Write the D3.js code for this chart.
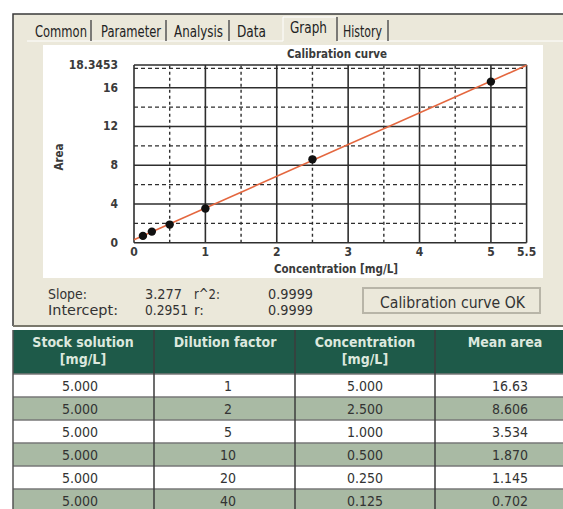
<!DOCTYPE html>
<html>
<head>
<meta charset="utf-8">
<title>Calibration curve</title>
<script src="https://d3js.org/d3.v7.min.js"></script>
<style>
  body { margin: 0; background: #fff; }
  svg text { font-family: "Liberation Sans Narrow", "DejaVu Sans Condensed", "Liberation Sans", sans-serif; }
</style>
</head>
<body>
<div id="chart"></div>
<script>
// data
const tabs = ["Common", "Parameter", "Analysis", "Data", "Graph", "History"];
const selectedTab = "Graph";
const stockSolution = ["5.000", "5.000", "5.000", "5.000", "5.000", "5.000"];
const dilutionFactor = ["1", "2", "5", "10", "20", "40"];
const concentration = [5.000, 2.500, 1.000, 0.500, 0.250, 0.125];
const meanArea = [16.63, 8.606, 3.534, 1.870, 1.145, 0.702];
const concentrationText = ["5.000", "2.500", "1.000", "0.500", "0.250", "0.125"];
const meanAreaText = ["16.63", "8.606", "3.534", "1.870", "1.145", "0.702"];
const headers = [["Stock solution", "[mg/L]"], ["Dilution factor"], ["Concentration", "[mg/L]"], ["Mean area"]];
const xTicks = [0, 1, 2, 3, 4, 5, 5.5];
const xDashed = [0.5, 1.5, 2.5, 3.5, 4.5];
const yTicks = [0, 4, 8, 12, 16, 18.3453];
const yDashed = [2, 6, 10, 14, 18];
const slope = 3.277, intercept = 0.2951, r2 = "0.9999", r = "0.9999";
const stats = [["Slope:", "3.277", "r^2:", r2], ["Intercept:", "0.2951", "r:", r]];

const W = 563, H = 509;
const svg = d3.select("#chart").append("svg").attr("width", W).attr("height", H);

// window panel
svg.append("rect").attr("x", 13).attr("y", 14).attr("width", W - 13).attr("height", 312)
  .attr("fill", "#ebe8da");
svg.append("path").attr("d", `M13,326V14H${W}`).attr("fill", "none").attr("stroke", "#3a3a3a").attr("stroke-width", 1.5);
svg.append("line").attr("x1", 13).attr("x2", W).attr("y1", 326).attr("y2", 326)
  .attr("stroke", "#7a786c").attr("stroke-width", 2);

// tabs
const tabX = [35, 101, 174, 237, 290, 343];
const tabW = [52, 60, 49, 29, 37, 39];
const tabSep = [91, 166, 229, null, 337, 388];
svg.append("line").attr("x1", 27).attr("x2", W).attr("y1", 41).attr("y2", 41).attr("stroke", "#fff");
svg.append("rect").attr("x", 283).attr("y", 16).attr("width", 54).attr("height", 26).attr("fill", "#ebe8da");
svg.append("path").attr("d", "M283,41V17H336").attr("fill", "none").attr("stroke", "#fff");
tabs.forEach((t, i) => {
  const sel = t === selectedTab;
  svg.append("text").attr("x", tabX[i]).attr("y", sel ? 33 : 37)
    .attr("textLength", tabW[i]).attr("lengthAdjust", "spacingAndGlyphs")
    .attr("font-size", 15).attr("fill", "#222").text(t);
  if (tabSep[i]) {
    svg.append("line").attr("x1", tabSep[i]).attr("x2", tabSep[i]).attr("y1", sel ? 17 : 20).attr("y2", 41)
      .attr("stroke", "#555").attr("stroke-width", 1.5);
  }
});

// chart area
svg.append("rect").attr("x", 43).attr("y", 45).attr("width", 500).attr("height", 233).attr("fill", "#fff");

const x = d3.scaleLinear().domain([0, 5.5]).range([134, 526.6]);
const y = d3.scaleLinear().domain([0, 18.3453]).range([242.7, 65]);
const g = svg.append("g");
const ink = "#2e2e2e";

g.selectAll(".xd").data(xDashed).join("line")
  .attr("x1", d => x(d)).attr("x2", d => x(d)).attr("y1", y(0)).attr("y2", y(18.3453))
  .attr("stroke", ink).attr("stroke-width", 1.4).attr("stroke-dasharray", "3,3");
g.selectAll(".yd").data(yDashed).join("line")
  .attr("x1", x(0)).attr("x2", x(5.5)).attr("y1", d => y(d)).attr("y2", d => y(d))
  .attr("stroke", ink).attr("stroke-width", 1.4).attr("stroke-dasharray", "4,3");
g.selectAll(".xs").data(xTicks).join("line")
  .attr("x1", d => x(d)).attr("x2", d => x(d)).attr("y1", y(0)).attr("y2", y(18.3453))
  .attr("stroke", ink).attr("stroke-width", 1.6);
g.selectAll(".ys").data(yTicks).join("line")
  .attr("x1", x(0)).attr("x2", x(5.5)).attr("y1", d => y(d)).attr("y2", d => y(d))
  .attr("stroke", ink).attr("stroke-width", 1.6);

// tick labels
g.selectAll(".yl").data(yTicks).join("text")
  .attr("x", 118).attr("y", d => y(d) + 4).attr("text-anchor", "end")
  .attr("font-size", 12).attr("font-weight", "bold").attr("fill", "#3a3a3a").text(d => d);
g.selectAll(".xl").data(xTicks).join("text")
  .attr("x", d => x(d)).attr("y", 256).attr("text-anchor", "middle")
  .attr("font-size", 12).attr("font-weight", "bold").attr("fill", "#3a3a3a").text(d => d);
svg.append("text").attr("x", 336).attr("y", 273).attr("text-anchor", "middle")
  .attr("font-size", 11.5).attr("font-weight", "bold").attr("fill", "#3a3a3a").text("Concentration [mg/L]");
svg.append("text").attr("transform", "translate(63,157) rotate(-90)").attr("text-anchor", "middle")
  .attr("font-size", 11.5).attr("font-weight", "bold").attr("fill", "#3a3a3a").text("Area");
svg.append("text").attr("x", 337).attr("y", 58).attr("text-anchor", "middle")
  .attr("font-size", 11.5).attr("font-weight", "bold").attr("fill", "#3a3a3a").text("Calibration curve");

// fit line and points
const fit = [0, 5.5].map(c => [c, slope * c + intercept]);
g.append("path").datum(fit)
  .attr("d", d3.line().x(d => x(d[0])).y(d => y(Math.min(d[1], 18.3453))))
  .attr("stroke", "#e4673f").attr("stroke-width", 1.6).attr("fill", "none");
g.selectAll(".pt").data(concentration).join("circle")
  .attr("cx", d => x(d)).attr("cy", (d, i) => y(meanArea[i])).attr("r", 4.2).attr("fill", "#111");

// stats
const statX = [48, 145, 194, 268];
const statW = [[39, 37, 26, 45], [70, 43, 10, 45]];
stats.forEach((row, ri) => {
  row.forEach((s, ci) => {
    svg.append("text").attr("x", statX[ci]).attr("y", 299 + ri * 16)
      .attr("textLength", statW[ri][ci]).attr("lengthAdjust", "spacingAndGlyphs")
      .attr("font-size", 14).attr("fill", "#333").text(s);
  });
});
svg.append("rect").attr("x", 363).attr("y", 288).attr("width", 177).attr("height", 25)
  .attr("fill", "#ebe8da").attr("stroke", "#b8b5a8").attr("stroke-width", 2);
svg.append("text").attr("x", 380).attr("y", 308)
  .attr("textLength", 145).attr("lengthAdjust", "spacingAndGlyphs")
  .attr("font-size", 16).attr("fill", "#333").text("Calibration curve OK");

// table
const colEdges = [13, 154, 295, 435, W];
const headTextX = [83, 225, 365, 505];
const cellTextX = [80, 228, 365, 510];
const tableTop = 330, headH = 44, rowH = 23;
svg.append("rect").attr("x", 13).attr("y", tableTop).attr("width", W - 13).attr("height", headH).attr("fill", "#1e5a49");
headers.forEach((h, i) => {
  h.forEach((line, li) => {
    svg.append("text").attr("x", headTextX[i]).attr("y", tableTop + 17 + li * 17).attr("text-anchor", "middle")
      .attr("font-size", 14).attr("font-weight", "bold").attr("fill", "#dce8de").text(line);
  });
});
const rows = d3.range(concentration.length).map(i =>
  [stockSolution[i], dilutionFactor[i], concentrationText[i], meanAreaText[i]]);
rows.forEach((row, i) => {
  const ry = tableTop + headH + i * rowH;
  svg.append("rect").attr("x", 13).attr("y", ry).attr("width", W - 13).attr("height", rowH)
    .attr("fill", i % 2 ? "#a9baa4" : "#ffffff");
  svg.append("line").attr("x1", 13).attr("x2", W).attr("y1", ry).attr("y2", ry).attr("stroke", "#777").attr("stroke-width", 1.5);
  row.forEach((v, ci) => {
    svg.append("text").attr("x", cellTextX[ci]).attr("y", ry + 17).attr("text-anchor", "middle")
      .attr("font-size", 14).attr("fill", "#333").text(v);
  });
});
colEdges.slice(0, 4).forEach((cx, i) => {
  svg.append("line").attr("x1", cx).attr("x2", cx).attr("y1", tableTop).attr("y2", H)
    .attr("stroke", i === 0 ? "#555" : "#3c3c3c").attr("stroke-width", 1.5);
});
</script>
</body>
</html>
